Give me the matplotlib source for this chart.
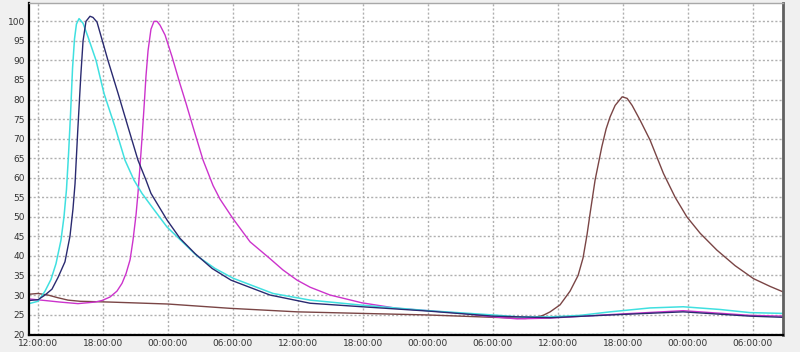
import datetime as dt
import matplotlib
matplotlib.use("Agg")
import matplotlib.pyplot as plt
import matplotlib.dates as mdates

# hours after the first 12:00:00 mark
cyan_h = [-0.83, 0.0, 0.65, 1.20, 1.66, 2.12, 2.40, 2.63, 2.82, 3.00, 3.19, 3.37, 3.55,
          3.79, 4.16, 4.62, 5.36, 6.09, 7.11, 8.03, 8.86, 9.60, 10.53, 11.91, 14.68,
          16.34, 18.01, 21.70, 25.12, 29.92, 36.01, 42.01, 44.51, 47.28, 50.05, 52.82,
          56.51, 59.56, 62.97, 65.74, 68.79]
cyan_v = [27.8, 28.4, 31.0, 34.0, 38.0, 44.0, 50.0, 57.0, 66.0, 76.0, 88.0, 95.5, 99.3,
          100.7, 99.5, 96.0, 90.0, 81.6, 73.0, 64.5, 59.4, 56.0, 52.5, 47.4, 40.0,
          36.8, 34.3, 30.4, 28.7, 27.4, 26.0, 24.9, 24.4, 24.4, 24.8, 25.7,
          26.7, 27.0, 26.3, 25.5, 25.3]

navy_h = [-0.83, 0.0, 0.65, 1.29, 1.85, 2.49, 2.95, 3.23, 3.42, 3.67, 3.95, 4.16, 4.43,
          4.80, 5.08, 5.45, 6.46, 7.39, 8.31, 9.23, 9.97, 10.43, 11.91, 13.11, 14.50,
          16.07, 17.82, 21.42, 25.12, 29.92, 36.01, 42.01, 47.28, 52.82, 59.56, 65.74,
          68.79]
navy_v = [28.6, 28.8, 30.0, 31.5, 34.5, 38.5, 45.0, 52.0, 58.5, 72.0, 86.0, 95.0, 100.0,
          101.3, 101.0, 99.8, 90.0, 81.6, 73.0, 64.5, 59.4, 56.0, 49.2, 44.5, 40.6,
          36.8, 33.8, 30.0, 27.9, 27.0, 25.9, 24.6, 24.2, 24.9, 25.7, 24.6,
          24.3]

magenta_h = [-0.83, 0.65, 2.03, 3.69, 5.26, 5.91, 6.65, 7.29, 7.76, 8.13, 8.50, 8.77,
             9.05, 9.23, 9.42, 9.60, 9.79, 9.97, 10.16, 10.43, 10.71, 10.99, 11.27,
             11.73, 12.37, 13.11, 13.67, 14.31, 15.24, 16.16, 16.81, 18.01, 19.58,
             21.42, 22.62, 23.92, 25.12, 26.96, 29.92, 33.15, 36.01, 39.24, 41.74,
             44.23, 47.28, 52.82, 59.56, 65.74, 68.79]
magenta_v = [29.0, 28.6, 28.2, 27.8, 28.2, 28.6, 29.5, 31.0, 33.0, 35.5, 39.0, 44.0,
             50.5, 56.0, 63.0, 70.0, 78.0, 86.0, 92.5, 98.0, 100.0, 100.0, 99.0,
             96.5, 91.0, 84.0, 79.0, 73.0, 64.5, 58.0, 54.5, 49.5, 43.6,
             39.3, 36.4, 33.8, 32.0, 30.0, 28.0, 26.6, 26.0, 25.3, 24.5,
             23.9, 24.1, 25.0, 26.0, 24.8, 24.6]

brown_h = [-0.83, 0.0, 0.92, 1.85, 2.77, 3.88, 6.65, 12.0, 17.73, 23.92, 29.92, 36.01,
           42.01, 44.97, 45.89, 46.63, 47.28, 48.20, 49.12, 49.86, 50.32, 50.69, 50.97,
           51.43, 52.05, 52.45, 52.82, 53.28, 53.93, 54.39, 54.85, 55.59, 56.51, 57.74,
           58.82, 59.90, 61.13, 62.67, 64.36, 66.05, 67.59, 68.79]
brown_v = [30.2, 30.4, 30.0, 29.3, 28.7, 28.4, 28.2, 27.7, 26.6, 25.7, 25.3, 24.9,
           24.3, 24.0, 24.2, 24.8, 25.7, 27.5, 31.0, 35.0, 39.5, 45.5, 50.9,
           59.4, 67.9, 72.5, 75.6, 78.5, 80.7, 80.3, 78.5, 74.7, 69.6, 61.1,
           55.0, 50.0, 45.8, 41.5, 37.5, 34.2, 32.2, 30.8]

start = dt.datetime(2024, 1, 1, 12, 0, 0)


def to_time(hours):
    return [start + dt.timedelta(hours=h) for h in hours]


fig = plt.figure(figsize=(8, 3.52), dpi=100, facecolor="#f0f0f0")
ax = fig.add_axes([0.03625, 0.048, 0.9428, 0.943])
ax.set_facecolor("white")

ax.plot(to_time(brown_h), brown_v, color="#7a4545", lw=1)
ax.plot(to_time(magenta_h), magenta_v, color="#cc33cc", lw=1)
ax.plot(to_time(cyan_h), cyan_v, color="#40e0e0", lw=1.1)
ax.plot(to_time(navy_h), navy_v, color="#2a2a70", lw=1)

ax.set_xlim(start - dt.timedelta(hours=0.83), start + dt.timedelta(hours=68.8))
ax.set_ylim(19.75, 104.65)
ax.set_yticks(range(20, 101, 5))
ax.xaxis.set_major_locator(mdates.HourLocator(byhour=[0, 6, 12, 18]))
ax.xaxis.set_major_formatter(mdates.DateFormatter("%H:%M:%S"))

ax.grid(True, color="#b0b0b0", linestyle=(0, (1.5, 1.5)), lw=1)
ax.tick_params(labelsize=6.5, length=0, pad=3, colors="#333333")

for side in ["left", "bottom"]:
    ax.spines[side].set_color("black")
    ax.spines[side].set_linewidth(1.6)
ax.spines["top"].set_color("#a8a8a8")
ax.spines["top"].set_linewidth(1)
ax.spines["right"].set_color("#606060")
ax.spines["right"].set_linewidth(2)

fig.savefig("out.png", dpi=100, facecolor=fig.get_facecolor())
